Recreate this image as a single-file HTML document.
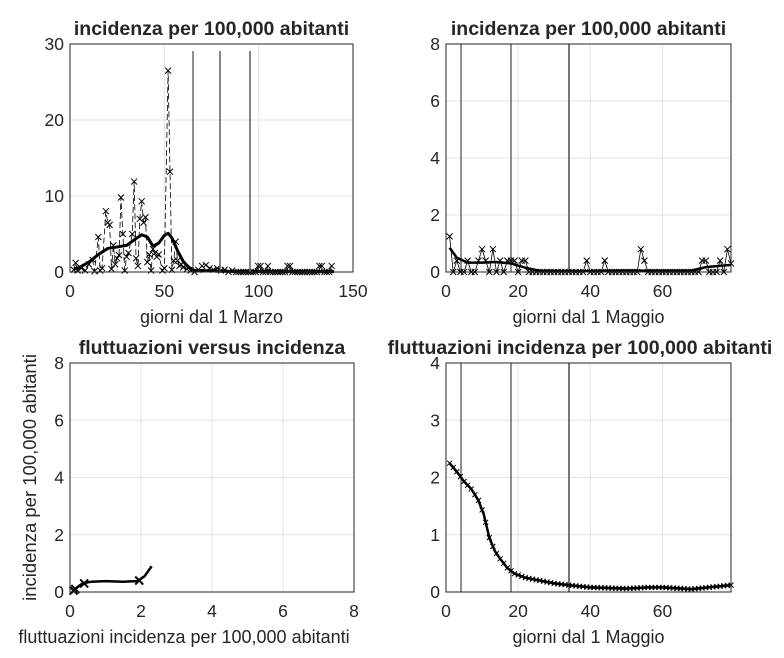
<!DOCTYPE html><html><head><style>body{margin:0;background:#fff}svg{display:block}text{font-family:"Liberation Sans",sans-serif;fill:#262626}</style></head><body>
<svg id="s" width="784" height="658" xmlns="http://www.w3.org/2000/svg"></svg>
<script>
const S=document.getElementById('s');let h='';
function ax(x0,x1,y0,y1,xmin,xmax,ymin,ymax,xt,yt,title,xl,yl,tx,lx){
 const X=v=>x0+(v-xmin)/(xmax-xmin)*(x1-x0),Y=v=>y1-(v-ymin)/(ymax-ymin)*(y1-y0);
 h+=`<rect x="${x0}" y="${y0}" width="${x1-x0}" height="${y1-y0}" fill="#fff"/>`;
 xt.forEach(t=>{const x=X(t);h+=`<line x1="${x}" x2="${x}" y1="${y0}" y2="${y1}" stroke="#e3e3e3"/><text x="${x}" y="${y1+25}" font-size="17.5" text-anchor="middle">${t}</text>`});
 yt.forEach(t=>{const y=Y(t);h+=`<line x1="${x0}" x2="${x1}" y1="${y}" y2="${y}" stroke="#e3e3e3"/><text x="${x0-6}" y="${y+6}" font-size="17.5" text-anchor="end">${t}</text>`});
 h+=`<text x="${tx||(x0+x1)/2}" y="${y0-9}" font-size="19.5" font-weight="bold" text-anchor="middle" fill="#000">${title}</text>`;
 if(xl)h+=`<text x="${lx||(x0+x1)/2}" y="${y1+51}" font-size="18" text-anchor="middle">${xl}</text>`;
 if(yl)h+=`<text transform="translate(${x0-34},${(y0+y1)/2}) rotate(-90)" font-size="18.5" text-anchor="middle">${yl}</text>`;
 return {X,Y,fin(){h+=`<rect x="${x0}" y="${y0}" width="${x1-x0}" height="${y1-y0}" fill="none" stroke="#262626" stroke-width="1"/>`}};
}
function mk(x,y,s=3,w=1){return `<path d="M${x-s} ${y-s}L${x+s} ${y+s}M${x-s} ${y+s}L${x+s} ${y-s}" stroke="#000" stroke-width="${w}"/>`}
function vl(x,y0,y1,c,w){h+=`<line x1="${x}" x2="${x}" y1="${y0}" y2="${y1}" stroke="${c}" stroke-width="${w}"/>`}
// Top-left
let a=ax(70,353,44,272,0,150,0,30,[0,50,100,150],[0,10,20,30],'incidenza per 100,000 abitanti','giorni dal 1 Marzo');
let d=[[2,.3],[3,1.2],[4,.2],[6,.5],[8,.2],[10,1],[12,1.6],[13,.1],[15,4.6],[16,.2],[17,.5],[19,8],[20,6.5],[21,6.2],[22,.4],[23,3.5],[24,1],[25,1.8],[26,2.2],[27,9.8],[28,5],[29,.2],[30,2],[31,2.5],[33,5],[34,11.9],[35,1.8],[36,.8],[37,7],[38,9.3],[39,6.5],[40,7.2],[41,1.3],[42,2.3],[43,.2],[44,3],[45,2.5],[46,2],[47,2.3],[49,.2],[50,.5],[52,26.5],[53,13.2],[54,.3],[55,1.5],[56,4],[57,1.5],[58,.8],[59,1],[60,.6],[62,.4],[64,.2],[66,0],[68,.3],[70,.8],[72,.9],[74,.5],[76,.3],[78,.5],[80,.2],[82,.3],[84,0],[86,.2]];
for(let i=88;i<=140;i+=1.3)d.push([i,[100,105,116,133,139].some(v=>Math.abs(v-i)<1)?.8:0]);
let p='';d.forEach((q,i)=>p+=(i?'L':'M')+a.X(q[0])+' '+a.Y(q[1]));
h+=`<path d="${p}" fill="none" stroke="#000" stroke-dasharray="6 3" stroke-width=".8"/>`;
d.forEach(q=>h+=mk(a.X(q[0]),a.Y(q[1])));
let sm=[[2,.4],[5,.6],[10,1.3],[15,2.3],[20,3.1],[25,3.3],[30,3.5],[35,4.4],[38,4.9],[41,4.6],[44,3.4],[47,3.8],[50,4.8],[52,5.1],[54,4.5],[57,2.8],[60,1.4],[63,.6],[66,.2],[70,.2],[80,.1],[90,.05],[140,.05]];
p='';sm.forEach((q,i)=>p+=(i?'L':'M')+a.X(q[0])+' '+a.Y(q[1]));
h+=`<path d="${p}" fill="none" stroke="#000" stroke-width="3" stroke-linejoin="round"/>`;
vl(193,51,272,'#222',1);vl(220,51,272,'#444',1.3);vl(250,51,272,'#666',1.6);a.fin();
// Top-right
a=ax(446,731,44,272,0,79,0,8,[0,20,40,60],[0,2,4,6,8],'incidenza per 100,000 abitanti','giorni dal 1 Maggio');
vl(461,44,272,'#222',1);vl(511,44,272,'#222',1);vl(569,44,272,'#777',2);
d=[];for(let i=1;i<=79;i++){let v=0;const hi={1:1.25,3:.4,6:.4,9:.4,10:.8,11:.4,13:.8,15:.4,17:.4,18:.4,19:.4,21:.4,22:.4,39:.4,44:.4,54:.8,55:.4,71:.4,72:.4,76:.4,78:.8,79:.3};if(hi[i])v=hi[i];if(i>22&&i<38)v=0;d.push([i,v])}
p='';d.forEach((q,i)=>p+=(i?'L':'M')+a.X(q[0])+' '+a.Y(q[1]));
h+=`<path d="${p}" fill="none" stroke="#000" stroke-width=".8"/>`;d.forEach(q=>h+=mk(a.X(q[0]),a.Y(q[1])));
sm=[[1,.85],[3,.5],[6,.33],[10,.33],[14,.35],[18,.3],[22,.15],[26,.04],[35,.02],[50,.05],[60,.04],[68,.05],[72,.17],[79,.25]];
p='';sm.forEach((q,i)=>p+=(i?'L':'M')+a.X(q[0])+' '+a.Y(q[1]));
h+=`<path d="${p}" fill="none" stroke="#000" stroke-width="2.5"/>`;a.fin();
// Bottom-left
a=ax(70,354,363,592,0,8,0,8,[0,2,4,6,8],[0,2,4,6,8],'fluttuazioni versus incidenza','fluttuazioni incidenza per 100,000 abitanti','incidenza per 100,000 abitanti',null,184);
sm=[[.1,.05],[.2,.15],[.35,.3],[.6,.36],[1,.38],[1.5,.36],[1.9,.38],[2.1,.55],[2.3,.9]];
p='';sm.forEach((q,i)=>p+=(i?'L':'M')+a.X(q[0])+' '+a.Y(q[1]));
h+=`<path d="${p}" fill="none" stroke="#000" stroke-width="2.5"/>`;
[[.1,.05],[.15,.1],[.4,.3],[1.95,.4]].forEach(q=>h+=mk(a.X(q[0]),a.Y(q[1]),4,2));a.fin();
// Bottom-right
a=ax(446,731,363,592,0,79,0,4,[0,20,40,60],[0,1,2,3,4],'fluttuazioni incidenza per 100,000 abitanti','giorni dal 1 Maggio',null,580);
vl(461,363,592,'#222',1);vl(511,363,592,'#222',1);vl(569,363,592,'#777',2);
sm=[[1,2.25],[3,2.1],[5,1.93],[7,1.8],[9,1.6],[10.5,1.35],[12,.95],[13.5,.72],[15,.58],[17,.42],[19,.32],[22,.25],[26,.2],[30,.15],[34,.12],[40,.08],[50,.06],[56,.08],[60,.08],[68,.05],[79,.12]];
p='';sm.forEach((q,i)=>p+=(i?'L':'M')+a.X(q[0])+' '+a.Y(q[1]));
h+=`<path d="${p}" fill="none" stroke="#000" stroke-width="2.5"/>`;
for(let t=1;t<=79;t++){let j=1;while(j<sm.length-1&&sm[j][0]<t)j++;const A=sm[j-1],B=sm[j];const v=A[1]+(B[1]-A[1])*(t-A[0])/(B[0]-A[0]);h+=mk(a.X(t),a.Y(v),2.5,1)}
a.fin();
S.innerHTML=h;
</script></body></html>
